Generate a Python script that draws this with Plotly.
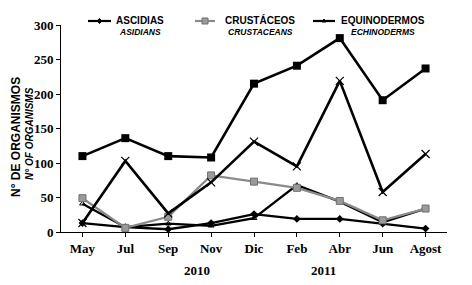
import plotly.graph_objects as go

months = ["May", "Jul", "Sep", "Nov", "Dic", "Feb", "Abr", "Jun", "Agost"]
total = [110, 136, 110, 108, 215, 241, 281, 191, 237]
otros = [13, 103, 27, 72, 131, 95, 219, 58, 113]
crustaceos = [49, 6, 22, 82, 73, 64, 45, 17, 34]
equinodermos = [41, 7, 12, 9, 20, 68, 44, 14, 34]
ascidias = [13, 7, 4, 13, 26, 19, 19, 12, 5]
y_ticks = [0, 50, 100, 150, 200, 250, 300]
years = ["2010", "2011"]

W, H = 472, 285
L, R, T, B = 61, 25, 25, 53
pw, ph = W - L - R, H - T - B

def px(x):
    return (x - L) / pw

def py(y):
    return (H - B - y) / ph

fig = go.Figure()
fig.add_trace(go.Scatter(x=months, y=ascidias, mode="lines+markers",
                         line=dict(color="black", width=2.3),
                         marker=dict(symbol="diamond", size=6, color="black")))
fig.add_trace(go.Scatter(x=months, y=equinodermos, mode="lines+markers",
                         line=dict(color="black", width=2.3),
                         marker=dict(symbol="triangle-up-open", size=5, color="black")))
fig.add_trace(go.Scatter(x=months, y=crustaceos, mode="lines+markers",
                         line=dict(color="#8a8a8a", width=2.3),
                         marker=dict(symbol="square", size=7, color="#9a9a9a",
                                     line=dict(color="#707070", width=1))))
fig.add_trace(go.Scatter(x=months, y=otros, mode="lines+markers",
                         line=dict(color="black", width=2.6),
                         marker=dict(symbol="x-thin-open", size=8, color="black",
                                     line=dict(color="black", width=1.2))))
fig.add_trace(go.Scatter(x=months, y=total, mode="lines+markers",
                         line=dict(color="black", width=2.6),
                         marker=dict(symbol="square", size=8, color="black")))

serif = "Liberation Serif"
sans = "Liberation Sans"

fig.update_layout(
    width=W, height=H, showlegend=False,
    margin=dict(l=L, r=R, t=T, b=B),
    paper_bgcolor="white", plot_bgcolor="white",
    xaxis=dict(type="category", categoryorder="array", categoryarray=months,
               range=[-0.5, 8.5], showline=True, linecolor="black", linewidth=1,
               ticks="outside", ticklen=4, tickcolor="black", showgrid=False,
               tickfont=dict(family=serif, size=13, color="black", weight="bold"),
               zeroline=False),
    yaxis=dict(range=[0, 300], tickvals=y_ticks, showline=True, linecolor="black",
               linewidth=1, ticks="outside", ticklen=4, tickcolor="black",
               showgrid=False, zeroline=False,
               tickfont=dict(family=serif, size=13, color="black", weight="bold")),
)

ann = []
# year labels
for label, xc in zip(years, [196.5, 323]):
    ann.append(dict(text="<b>%s</b>" % label, x=px(xc), y=py(270), xref="paper", yref="paper",
                    showarrow=False, font=dict(family=serif, size=13, color="black"),
                    xanchor="center", yanchor="middle"))
# y titles
ann.append(dict(text="<b>N° DE ORGANISMOS</b>", x=px(16), y=py(137), xref="paper", yref="paper",
                showarrow=False, textangle=-90, font=dict(family=sans, size=12, color="black"),
                xanchor="center", yanchor="middle"))
ann.append(dict(text="<b><i>N° OF ORGANISMS</i></b>", x=px(29), y=py(134), xref="paper", yref="paper",
                showarrow=False, textangle=-90, font=dict(family=sans, size=10, color="black"),
                xanchor="center", yanchor="middle"))

legend = [
    ("ASCIDIAS", "ASIDIANS", 139.5, 88, 111, "black", "diamond"),
    ("CRUSTÁCEOS", "CRUSTACEANS", 260, 195, 215, "#8a8a8a", "square"),
    ("EQUINODERMOS", "ECHINODERMS", 382.5, 313, 335, "black", "triangle"),
]
shapes = []
for t1, t2, xc, lx0, lx1, col, sym in legend:
    ann.append(dict(text="<b>%s</b>" % t1, x=px(xc), y=py(20.5), xref="paper", yref="paper",
                    showarrow=False, font=dict(family=sans, size=10, color="black"),
                    xanchor="center", yanchor="middle"))
    ann.append(dict(text="<b><i>%s</i></b>" % t2, x=px(xc), y=py(31.5), xref="paper", yref="paper",
                    showarrow=False, font=dict(family=sans, size=8.5, color="black"),
                    xanchor="center", yanchor="middle"))
    shapes.append(dict(type="line", xref="paper", yref="paper", x0=px(lx0), x1=px(lx1),
                       y0=py(21), y1=py(21), line=dict(color=col, width=2.2)))
    cx, cy = px((lx0 + lx1) / 2), py(21)
    if sym == "diamond":
        path = "M -2.5 0 L 0 2.5 L 2.5 0 L 0 -2.5 Z"
        fill, lc = "black", "black"
    elif sym == "square":
        path = "M -3 -3 L 3 -3 L 3 3 L -3 3 Z"
        fill, lc = "#9a9a9a", "#707070"
    else:
        path = "M -2 -1 L 2 -1 L 0 2 Z"
        fill, lc = "black", "black"
    shapes.append(dict(type="path", xref="paper", yref="paper", xsizemode="pixel",
                       ysizemode="pixel", xanchor=cx, yanchor=cy, path=path,
                       fillcolor=fill, line=dict(color=lc, width=1)))

fig.update_layout(annotations=ann, shapes=shapes)
fig.write_html("out.html", config={"displayModeBar": False},
               post_script="document.body.style.margin='0';")
